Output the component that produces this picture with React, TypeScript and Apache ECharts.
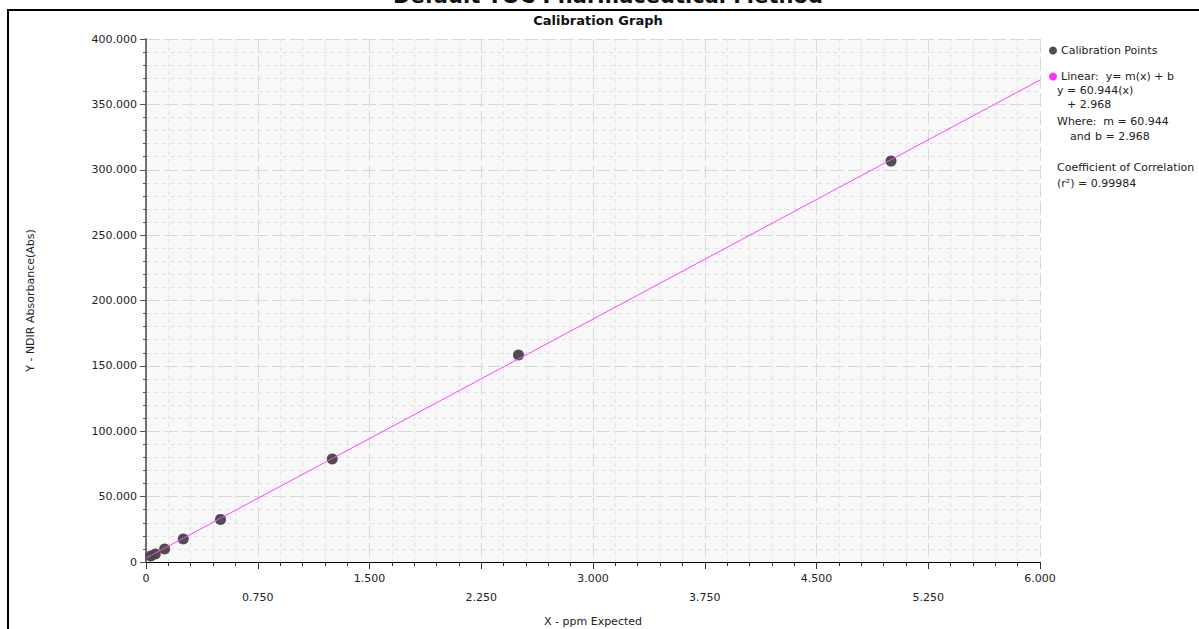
import React, { useEffect, useRef } from "react";
import * as echarts from "echarts";

const calX = [0.03125, 0.0625, 0.125, 0.25, 0.5, 1.25, 2.5, 5];
const calY = [4.6, 6.1, 10.0, 17.6, 32.6, 78.7, 158.3, 306.6];
const fitX = [0, 6];
const fitY = [2.968, 368.632];

const pageTitle = "Default TOC Pharmaceutical Method";
const chartTitle = "Calibration Graph";
const xName = "X - ppm Expected";
const yName = "Y - NDIR Absorbance(Abs)";
const seriesNames = ["Calibration Points", "Linear:  y= m(x) + b"];
const legendLines: [string, number, number][] = [
  ["y = 60.944(x)", 1057, 90],
  ["+ 2.968", 1067, 104],
  ["Where:  m = 60.944", 1057, 121],
  ["and", 1070, 136],
  ["b = 2.968", 1095, 136],
  ["Coefficient of Correlation", 1057, 167],
  ["(r²) = 0.99984", 1057, 183],
];

const FONT = "DejaVu Sans";

export default function App() {
  const ref = useRef<HTMLDivElement>(null);
  useEffect(() => {
    if (!ref.current) return;
    const chart = echarts.init(ref.current, null, { renderer: "svg" });
    const option: any = {
      animation: false,
      backgroundColor: "#fff",
      textStyle: { fontFamily: FONT },
      title: {
        text: chartTitle,
        left: 593,
        top: 9,
        textAlign: "center",
        textStyle: { fontFamily: FONT, fontSize: 13, fontWeight: "bold", color: "#111" },
      },
      grid: {
        left: 146,
        right: 159,
        top: 39,
        bottom: 67,
        containLabel: false,
        outerBoundsMode: "none",
        show: true,
        backgroundColor: "#f8f8f8",
        borderWidth: 0,
      },
      legend: {
        orient: "vertical",
        left: 1044,
        top: 40,
        itemGap: 15,
        itemWidth: 8,
        itemHeight: 8,
        icon: "circle",
        data: seriesNames,
        textStyle: { fontFamily: FONT, fontSize: 11, color: "#222", padding: [0, 0, 0, -1] },
      },
      xAxis: {
        type: "value",
        min: 0,
        max: 6,
        interval: 0.75,
        name: xName,
        nameLocation: "middle",
        nameGap: 54,
        nameTextStyle: { fontFamily: FONT, fontSize: 11, color: "#222" },
        axisLine: { show: true, onZero: false, lineStyle: { color: "#000", width: 1 } },
        axisTick: { show: true, length: 7, lineStyle: { color: "#333" } },
        minorTick: { show: true, splitNumber: 5, length: 4, lineStyle: { color: "#333" } },
        axisLabel: {
          fontFamily: FONT,
          fontSize: 11,
          color: "#222",
          margin: 7,
          lineHeight: 19,
          formatter: (v: number) => {
            const idx = Math.round(v / 0.75);
            const s = v === 0 ? "0" : v.toFixed(3);
            return idx % 2 === 1 ? "\n" + s : s;
          },
        },
        splitLine: { show: true, lineStyle: { color: "#d8d8d8", type: [14, 4], width: 1 } },
        minorSplitLine: { show: true, lineStyle: { color: "#e2e2e2", type: [4, 4], width: 1 } },
      },
      yAxis: {
        type: "value",
        min: 0,
        max: 400,
        interval: 50,
        name: yName,
        nameLocation: "middle",
        nameGap: 110,
        nameTextStyle: { fontFamily: FONT, fontSize: 11, color: "#222" },
        axisLine: { show: true, lineStyle: { color: "#707070", width: 2 } },
        axisTick: { show: true, length: 6, lineStyle: { color: "#555" } },
        minorTick: { show: true, splitNumber: 5, length: 3, lineStyle: { color: "#555" } },
        axisLabel: {
          fontFamily: FONT,
          fontSize: 11,
          color: "#222",
          margin: 9,
          formatter: (v: number) => (v === 0 ? "0" : v.toFixed(3)),
        },
        splitLine: { show: true, lineStyle: { color: "#d8d8d8", type: [14, 4], width: 1 } },
        minorSplitLine: { show: true, lineStyle: { color: "#e2e2e2", type: [4, 4], width: 1 } },
      },
      series: [
        {
          name: seriesNames[0],
          type: "scatter",
          symbol: "circle",
          symbolSize: 11,
          z: 3,
          itemStyle: { color: "#454545", opacity: 0.95 },
          data: calX.map((x, i) => [x, calY[i]]),
        },
        {
          name: seriesNames[1],
          type: "line",
          showSymbol: false,
          symbol: "circle",
          z: 4,
          itemStyle: { color: "#ff33ff" },
          lineStyle: { color: "#ff44ff", width: 1 },
          data: fitX.map((x, i) => [x, fitY[i]]),
        },
      ],
      graphic: [
        {
          type: "rect",
          z: 100,
          shape: { x: 8, y: 10, width: 1300, height: 800 },
          style: { fill: "none", stroke: "#000", lineWidth: 2 },
          silent: true,
        },
        {
          type: "text",
          x: 608,
          y: 6,
          style: {
            text: pageTitle,
            fontFamily: FONT,
            fontSize: 21,
            fontWeight: "bold",
            fill: "#111",
            textAlign: "center",
            textVerticalAlign: "bottom",
          },
        },
        ...legendLines.map(([t, x, y]) => ({
          type: "text",
          x,
          y,
          style: {
            text: t,
            fontFamily: FONT,
            fontSize: 11,
            fill: "#222",
            textAlign: "left",
            textVerticalAlign: "middle",
          },
        })),
      ],
    };
    chart.setOption(option);
    return () => chart.dispose();
  }, []);
  return (
    <div
      ref={ref}
      style={{ position: "fixed", left: 0, top: 0, width: 1199, height: 629 }}
    />
  );
}
